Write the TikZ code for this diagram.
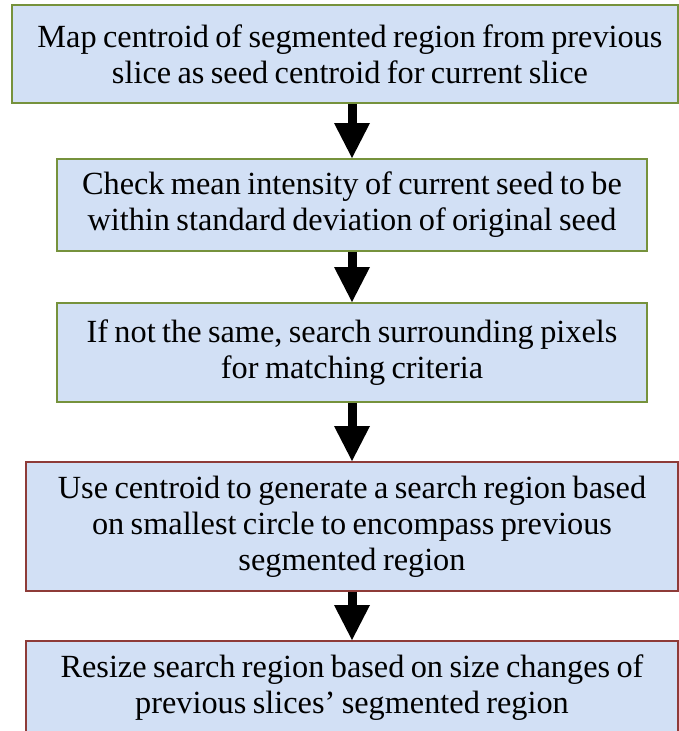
\documentclass[tikz,border=0pt]{standalone}
\usepackage{fontspec}
\setmainfont{Liberation Serif}
\usetikzlibrary{arrows.meta}
\definecolor{boxfill}{HTML}{D2E0F5}
\definecolor{greenline}{HTML}{76923C}
\definecolor{redline}{HTML}{8E3B38}
\tikzset{
  stepbox/.style={draw, line width=2pt, fill=boxfill, inner sep=0pt,
    align=center, font=\fontsize{32.3}{36}\selectfont,
    execute at begin node={\spaceskip=6.4pt\relax}},
  greenbox/.style={stepbox, draw=greenline},
  redbox/.style={stepbox, draw=redline},
  flow/.style={line width=9pt, black,
    -{Triangle[width=36pt,length=35pt,line width=0pt]}}
}
\begin{document}
\begin{tikzpicture}[x=1pt,y=-1pt]
\useasboundingbox (0,0) rectangle (679,731);
\node[greenbox, minimum width=666pt, minimum height=98pt, text width=656pt]
  (b1) at (345,54) {\hspace*{10pt}Map centroid of segmented region from previous\\\hspace*{10pt}slice as seed centroid for current slice};
\node[greenbox, minimum width=590pt, minimum height=92pt, text width=580pt]
  (b2) at (352,205) {Check mean intensity of current seed to be\\within standard deviation of original seed};
\node[greenbox, minimum width=590pt, minimum height=99pt, text width=580pt]
  (b3) at (352,352.5) {If not the same, search surrounding pixels\\for matching criteria};
\node[redbox, minimum width=652pt, minimum height=129pt, text width=640pt]
  (b4) at (352,526.5) {Use centroid to generate a search region based\\on smallest circle to encompass previous\\segmented region};
\node[redbox, minimum width=652pt, minimum height=94pt, text width=640pt]
  (b5) at (352,688) {Resize search region based on size changes of\\previous slices' segmented region};
\draw[flow] (b1.south -| b2.north) -- (b2.north);
\draw[flow] (b2.south) -- (b3.north);
\draw[flow] (b3.south) -- (b4.north);
\draw[flow] (b4.south) -- (b5.north);
\end{tikzpicture}
\end{document}
